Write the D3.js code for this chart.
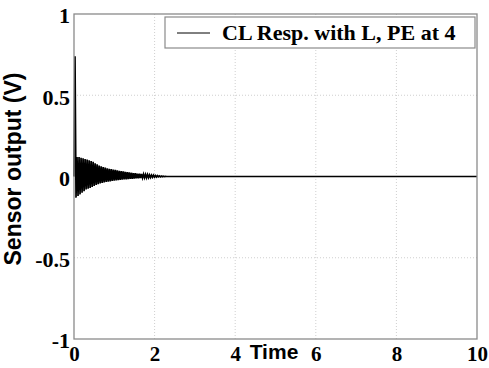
<!DOCTYPE html>
<html><head><meta charset="utf-8">
<script src="https://cdn.jsdelivr.net/npm/d3@7"></script>
<style>body{margin:0;background:#fff}svg{display:block}</style>
</head><body>
<script>
// Data
const xTicks = [0, 2, 4, 6, 8, 10];
const yTicks = [-1, -0.5, 0, 0.5, 1];
const yTickLabels = ["-1", "-0.5", "0", "0.5", "1"];
const sampleStep = 0.025; // s, time between listed samples
const respValues = [
  0, 0.74, -0.13, 0.12, -0.12, 0.12, -0.11, 0.115, -0.10, 0.112,
  -0.09, 0.108, -0.08, 0.104, -0.075, 0.10, -0.07, 0.095, -0.065, 0.09,
  -0.058, 0.082, -0.052, 0.075, -0.047, 0.068, -0.043, 0.062, -0.040, 0.058,
  -0.037, 0.055, -0.034, 0.051, -0.032, 0.048, -0.030, 0.045, -0.028, 0.043,
  -0.026, 0.041, -0.024, 0.038, -0.022, 0.035, -0.021, 0.033, -0.020, 0.031,
  -0.018, 0.029, -0.017, 0.027, -0.016, 0.025, -0.015, 0.023, -0.014, 0.021,
  -0.013, 0.020, -0.012, 0.018, -0.011, 0.017, -0.010, 0.015, -0.009, 0.014,
  -0.008, 0.013, -0.008, 0.012, -0.007, 0.010, -0.006, 0.009, -0.005, 0.008,
  -0.004, 0.006, -0.003, 0.005, -0.002, 0.004, -0.002, 0.003, -0.001, 0.002,
  -0.001, 0.001, 0
];
const tailTimes = [10];
const tailValues = [0];
const legendLabel = "CL Resp. with L, PE at 4";
const xLabel = "Time";
const yLabel = "Sensor output (V)";

const W = 489, H = 368;
const m = {left: 74, right: 12, top: 14, bottom: 29};
const svg = d3.select("body").append("svg").attr("width", W).attr("height", H);
const x = d3.scaleLinear().domain([0, 10]).range([m.left, W - m.right]);
const y = d3.scaleLinear().domain([-1, 1]).range([H - m.bottom, m.top]);

const serif = "'Liberation Serif','Times New Roman',serif";
const sans = "'Liberation Sans',Arial,sans-serif";

// grid
const g = svg.append("g");
g.selectAll("line.gx").data(xTicks.slice(1, -1)).join("line")
  .attr("x1", d => x(d)).attr("x2", d => x(d)).attr("y1", y(1)).attr("y2", y(-1))
  .attr("stroke", "#cfcfcf").attr("stroke-width", 1).attr("stroke-dasharray", "1,2");
g.selectAll("line.gy").data(yTicks.slice(1, -1)).join("line")
  .attr("y1", d => y(d)).attr("y2", d => y(d)).attr("x1", x(0)).attr("x2", x(10))
  .attr("stroke", "#cfcfcf").attr("stroke-width", 1).attr("stroke-dasharray", "1,2");

// data line
const pts = respValues.map((v, i) => [i * sampleStep, v]).concat(tailTimes.map((t, i) => [t, tailValues[i]]));
svg.append("path").datum(pts)
  .attr("d", d3.line().x(d => x(d[0])).y(d => y(d[1])))
  .attr("fill", "none").attr("stroke", "#000").attr("stroke-width", 1.7);

// frame
svg.append("rect").attr("x", x(0)).attr("y", y(1)).attr("width", x(10) - x(0)).attr("height", y(-1) - y(1))
  .attr("fill", "none").attr("stroke", "#8a8a8a").attr("stroke-width", 1.3);

// axes
const xAxis = svg.append("g").attr("transform", `translate(0,${y(-1)})`)
  .call(d3.axisBottom(x).tickValues(xTicks).tickSize(0).tickPadding(7).tickFormat(d3.format("d")));
xAxis.select(".domain").remove();
xAxis.selectAll("text").attr("font-family", serif).attr("font-weight", "bold").attr("font-size", 21).attr("fill", "#000");

const yAxis = svg.append("g").attr("transform", `translate(${x(0)},0)`)
  .call(d3.axisLeft(y).tickValues(yTicks).tickSize(0).tickPadding(4).tickFormat((d, i) => yTickLabels[i]));
yAxis.select(".domain").remove();
yAxis.selectAll("text").attr("font-family", serif).attr("font-weight", "bold").attr("font-size", 22).attr("fill", "#000")
  .attr("dy", "0.4em");

// axis labels
svg.append("text").attr("x", 274).attr("y", 359).attr("text-anchor", "middle")
  .attr("font-family", sans).attr("font-weight", "bold").attr("font-size", 21).text(xLabel);
svg.append("text").attr("transform", `translate(21,${169}) rotate(-90)`).attr("text-anchor", "middle")
  .attr("font-family", sans).attr("font-weight", "bold").attr("font-size", 23).text(yLabel);

// legend
const lg = svg.append("g");
lg.append("rect").attr("x", 165).attr("y", 17).attr("width", 310).attr("height", 31)
  .attr("fill", "#fff").attr("stroke", "#8a8a8a").attr("stroke-width", 1.2);
lg.append("line").attr("x1", 177).attr("x2", 210).attr("y1", 33).attr("y2", 33).attr("stroke", "#000").attr("stroke-width", 1);
lg.append("text").attr("x", 222).attr("y", 40).attr("font-family", serif).attr("font-weight", "bold")
  .attr("font-size", 22).text(legendLabel);
</script>
</body></html>
